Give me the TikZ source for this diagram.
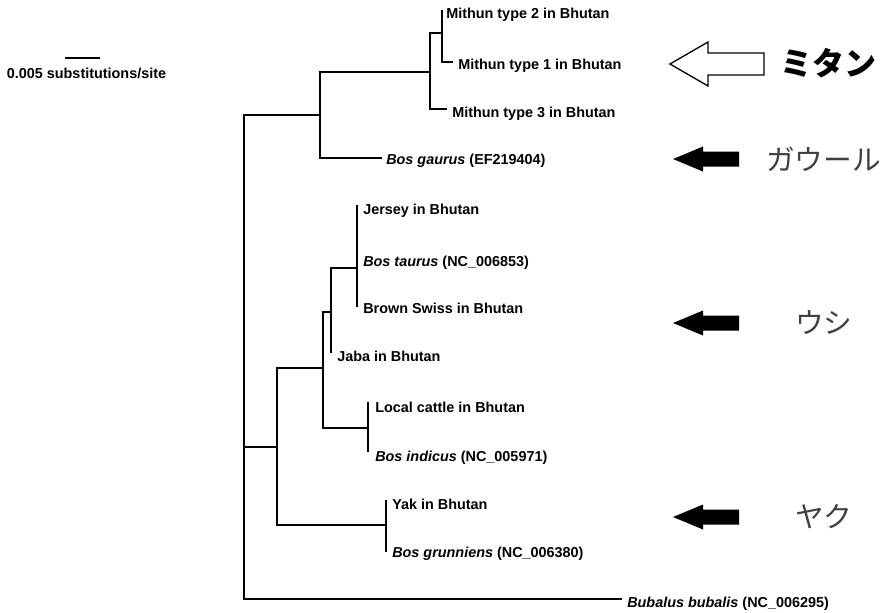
\documentclass[tikz,border=0pt]{standalone}
\usepackage{fontspec}
\setmainfont{Liberation Sans}
\newfontfamily\jpfont{Noto Sans CJK JP}
\usepackage{tikz}
\usetikzlibrary{positioning}

\tikzset{
  branch/.style={line width=1.9pt},
  leaf/.style={anchor=mid west, inner sep=0pt, font=\fontsize{10.8}{12}\selectfont\bfseries},
  jplabel/.style={anchor=west, inner sep=0pt, text=black!75, font=\jpfont\fontsize{21.5}{24}\selectfont},
  pics/blackarrow/.style={code={
    \fill (0,0) -- (30,-12.5) -- (30,-7.5) -- (66,-7.5) -- (66,7.5) -- (30,7.5) -- (30,12.5) -- cycle;
  }}
}

\begin{document}
\begin{tikzpicture}[x=0.75pt, y=-0.75pt]
            \useasboundingbox (0,0) rectangle (884,612);

            % scale bar
            \coordinate (sbl) at (65,58);
            \coordinate (sbr) at (100,58);
            \draw [branch] (sbl) -- (sbr);
            \node [anchor=mid, inner sep=0pt, font=\fontsize{10.8}{12}\selectfont\bfseries] (sblabel) at (86.5,75) {0.005 substitutions/site};

            % internal nodes
            \coordinate (root) at (244,447);
            \coordinate (nmg) at (320,115);
            \coordinate (nmit) at (430,72);
            \coordinate (nm12) at (442,33);
            \coordinate (ncy) at (277,447);
            \coordinate (ncat) at (323,368);
            \coordinate (ntj) at (331,312);
            \coordinate (ntau) at (357,268);
            \coordinate (nind) at (368,428);
            \coordinate (nyak) at (386,525);

            % leaf tips
            \coordinate (tm2) at (442,10);
            \coordinate (tm1) at (453,62);
            \coordinate (tm3) at (447,109);
            \coordinate (tgau) at (382,158);
            \coordinate (tjer) at (357,205);
            \coordinate (tbro) at (357,307);
            \coordinate (tjab) at (331,353);
            \coordinate (tloc) at (368,402);
            \coordinate (tind) at (368,452);
            \coordinate (tyak) at (386,500);
            \coordinate (tgru) at (386,552);
            \coordinate (tbub) at (622,599);

            % branches
            \draw [branch] (root) |- (nmg);
            \draw [branch] (root) |- (ncy);
            \draw [branch] (root) |- (tbub);
            \draw [branch] (nmg) |- (nmit);
            \draw [branch] (nmg) |- (tgau);
            \draw [branch] (nmit) |- (nm12);
            \draw [branch] (nmit) |- (tm3);
            \draw [branch] (nm12) |- (tm2);
            \draw [branch] (nm12) |- (tm1);
            \draw [branch] (ncy) |- (ncat);
            \draw [branch] (ncy) |- (nyak);
            \draw [branch] (ncat) |- (ntj);
            \draw [branch] (ncat) |- (nind);
            \draw [branch] (ntj) |- (ntau);
            \draw [branch] (ntj) |- (tjab);
            \draw [branch] (ntau) |- (tjer);
            \draw [branch] (ntau) |- (tbro);
            \draw [branch] (nind) |- (tloc);
            \draw [branch] (nind) |- (tind);
            \draw [branch] (nyak) |- (tyak);
            \draw [branch] (nyak) |- (tgru);

            % leaf labels
            \node [leaf] (lm2) at (446,15) {Mithun type 2 in Bhutan};
            \node [leaf] (lm1) at (458,66) {Mithun type 1 in Bhutan};
            \node [leaf] (lm3) at (452,114) {Mithun type 3 in Bhutan};
            \node [leaf] (lgau) at (386,161) {\textit{Bos gaurus} (EF219404)};
            \node [leaf] (ljer) at (363,211) {Jersey in Bhutan};
            \node [leaf] (ltau) at (363,263) {\textit{Bos taurus} (NC\_006853)};
            \node [leaf] (lbro) at (363,310) {Brown Swiss in Bhutan};
            \node [leaf] (ljab) at (337,358) {Jaba in Bhutan};
            \node [leaf] (lloc) at (375,409) {Local cattle in Bhutan};
            \node [leaf] (lind) at (375,458) {\textit{Bos indicus} (NC\_005971)};
            \node [leaf] (lyak) at (392,506) {Yak in Bhutan};
            \node [leaf] (lgru) at (392,554) {\textit{Bos grunniens} (NC\_006380)};
            \node [leaf] (lbub) at (627,604) {\textit{Bubalus bubalis} (NC\_006295)};

            % arrows and names
            \draw [line width=1pt, line join=miter] (670,64) -- (708,42) -- (708,53) -- (764,53) -- (764,75) -- (708,75) -- (708,86) -- cycle;
            \node [jplabel, text=black, font=\jpfont\bfseries\fontsize{24}{26}\selectfont] (mithun) at (780,63) {ミタン};
            \pic at (673,159) {blackarrow};
            \node [jplabel] (gaur) at (766,159) {ガウール};
            \pic at (673,323) {blackarrow};
            \node [jplabel] (cattle) at (795,323) {ウシ};
            \pic at (673,517) {blackarrow};
            \node [jplabel] (yak) at (795,517) {ヤク};
        \end{tikzpicture}
\end{document}
